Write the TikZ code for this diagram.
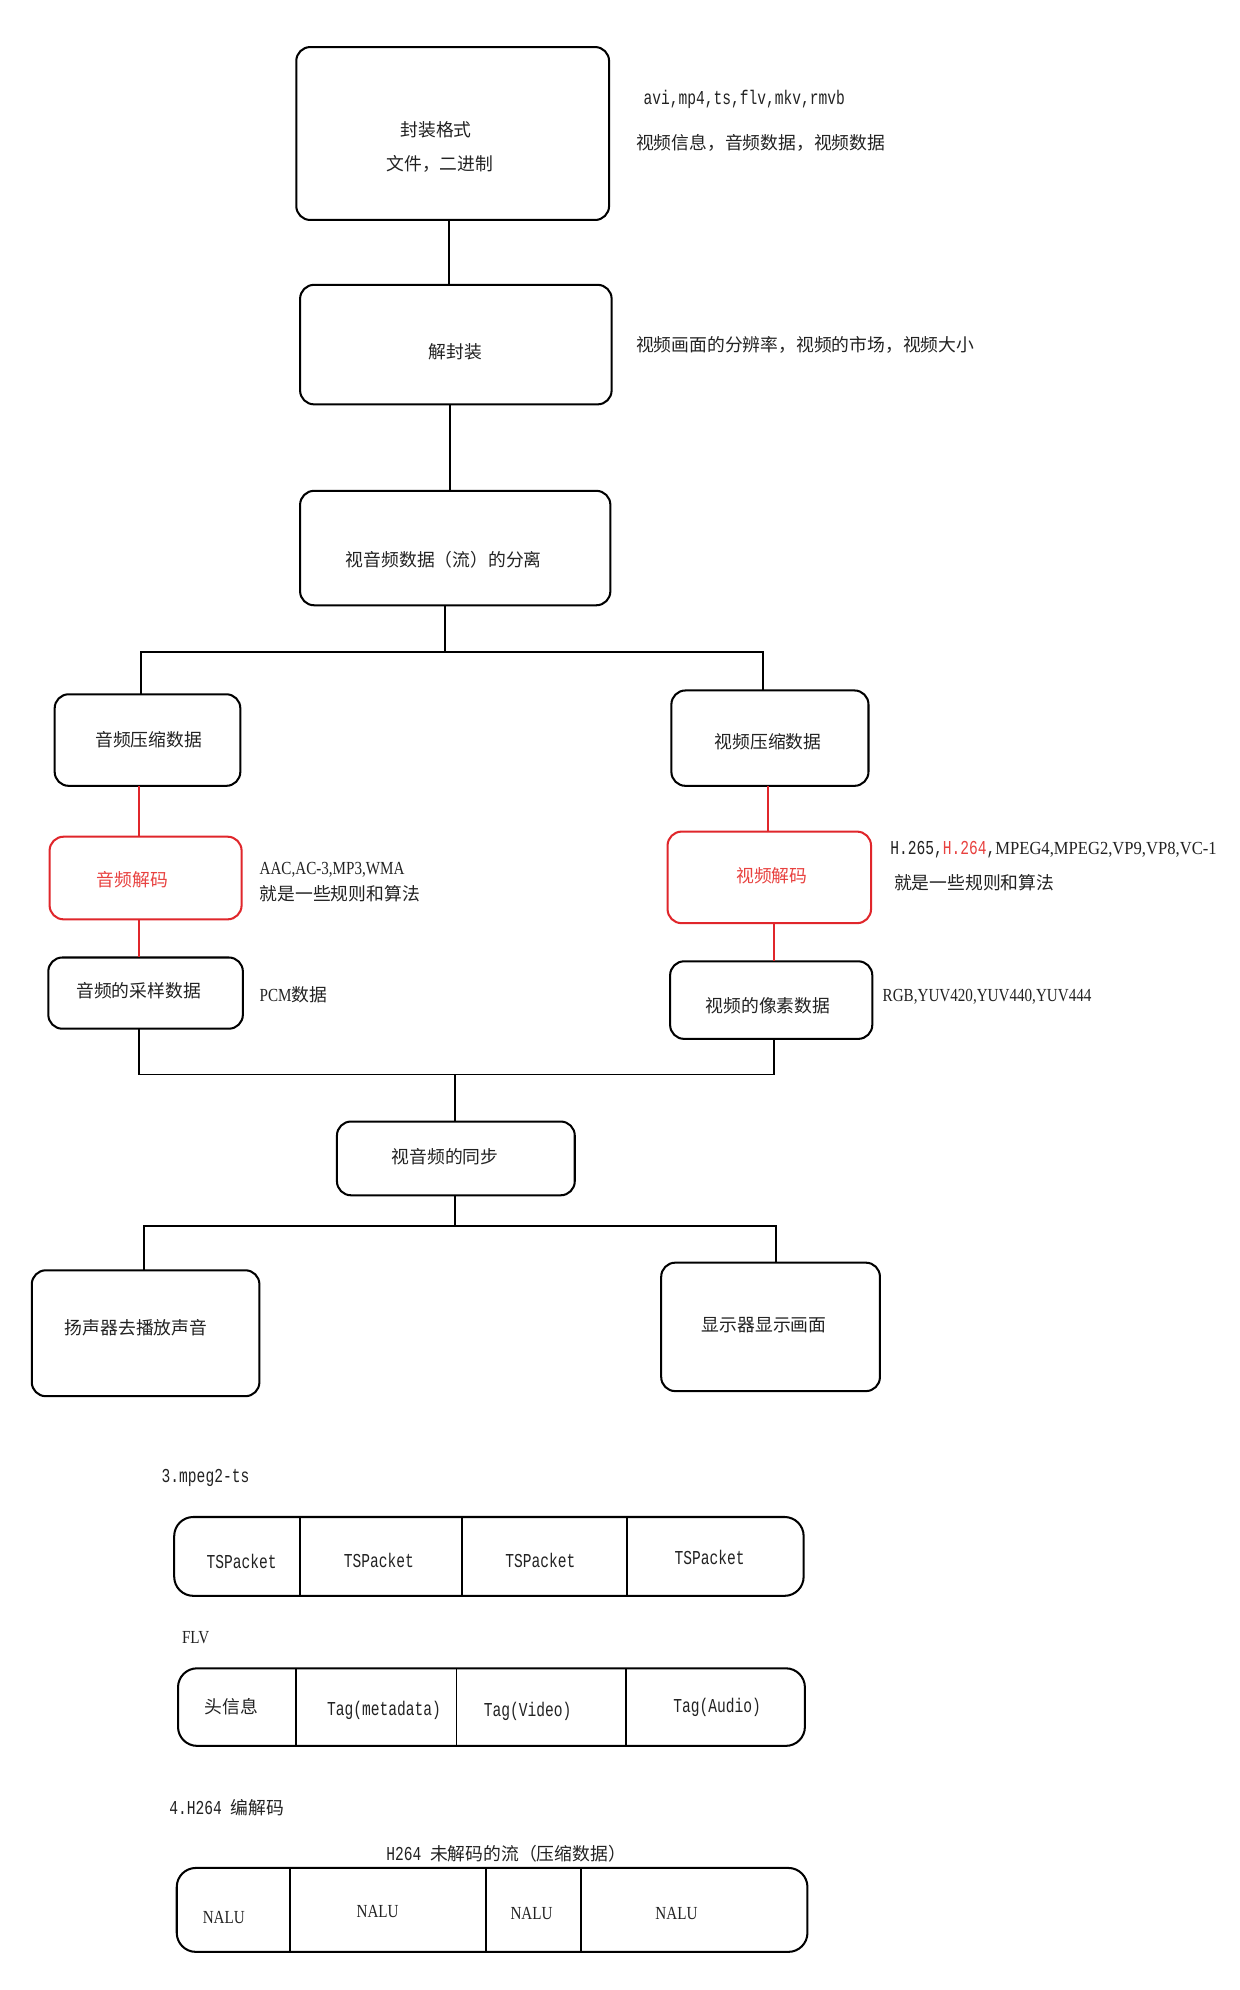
\documentclass[tikz,border=0pt]{standalone}
\usepackage{fontspec}
\setmainfont{Liberation Serif}
\newfontfamily\zhf{Noto Sans CJK SC}
\newfontfamily\mof[FakeStretch=0.74]{Liberation Mono}
\newfontfamily\sef[FakeStretch=0.82]{Liberation Serif}
\newfontfamily\sewf[FakeStretch=0.9]{Liberation Serif}
\definecolor{redc}{HTML}{E0262B}
\definecolor{redt}{HTML}{E8413F}
\definecolor{txt}{HTML}{222222}
\begin{document}
\begin{tikzpicture}[x=1pt,y=-1pt,
  box/.style={draw=black, line width=1.6pt, rounded corners=11pt, anchor=north west, inner sep=0pt, outer sep=0pt},
  redbox/.style={box, draw=redc},
  bar/.style={box, rounded corners=15pt},
  conn/.style={line width=1.5pt},
  redconn/.style={conn, draw=redc},
  zh/.style={font=\fontsize{14}{16}\selectfont\zhf, text=txt, inner sep=0pt},
  mo/.style={font=\fontsize{15.5}{16}\selectfont\mof, text=txt, inner sep=0pt},
  se/.style={font=\fontsize{14.5}{16}\selectfont\sef, text=txt, inner sep=0pt},
]
\fill[white] (0,0) rectangle (975,1565);
\useasboundingbox (0,0) rectangle (975,1565);

% boxes
\node[box, minimum width=246pt, minimum height=136pt] (b1) at (233,37) {};
\node[box, minimum width=245pt, minimum height=94pt] (b2) at (236,224) {};
\node[box, minimum width=244pt, minimum height=90pt] (b3) at (236,386) {};
\node[box, minimum width=146pt, minimum height=72pt] (b4) at (43,546) {};
\node[redbox, minimum width=151pt, minimum height=65pt] (b5) at (39,658) {};
\node[box, minimum width=153pt, minimum height=56pt] (b6) at (38,753) {};
\node[box, minimum width=155pt, minimum height=75pt] (b7) at (528,543) {};
\node[redbox, minimum width=160pt, minimum height=72pt] (b8) at (525,654) {};
\node[box, minimum width=159pt, minimum height=61pt] (b9) at (527,756) {};
\node[box, minimum width=187pt, minimum height=58pt] (b10) at (265,882) {};
\node[box, minimum width=179pt, minimum height=99pt] (b11) at (25,999) {};
\node[box, minimum width=172pt, minimum height=101pt] (b12) at (520,993) {};

% box texts
\node[zh] (t1a) at (343,102) {封装格式};
\node[zh] (t1b) at (346,129) {文件，二进制};
\node[zh] (t2) at (358,277) {解封装};
\node[zh] (t3) at (349,440) {视音频数据（流）的分离};
\node[zh] (t4) at (117,582) {音频压缩数据};
\node[zh, text=redt] (t5) at (104,692) {音频解码};
\node[zh] (t6) at (109,779) {音频的采样数据};
\node[zh] (t7) at (604,583) {视频压缩数据};
\node[zh, text=redt] (t8) at (607,689) {视频解码};
\node[zh] (t9) at (604,791) {视频的像素数据};
\node[zh] (t10) at (350,910) {视音频的同步};
\node[zh] (t11) at (107,1044) {扬声器去播放声音};
\node[zh] (t12) at (601,1042) {显示器显示画面};

% annotations
\node[mo, anchor=west] (a1) at (506,78) {avi,mp4,ts,flv,mkv,rmvb};
\node[zh, anchor=west] (a2) at (500,112) {视频信息，音频数据，视频数据};
\node[zh, anchor=west] (a3) at (500,271) {视频画面的分辨率，视频的市场，视频大小};
\node[se, anchor=west] (a4) at (204,684) {AAC,AC-3,MP3,WMA};
\node[zh, anchor=west] (a5) at (204,703) {就是一些规则和算法};
\node[se, anchor=west] (a6) at (204,782) {PCM{\zhf\fontsize{14}{16}\selectfont 数据}};
\node[mo, anchor=west] (a7) at (700,668) {H.265,\textcolor{redt}{H.264},{\fontsize{14.5}{16}\selectfont\sewf MPEG4,MPEG2,VP9,VP8,VC-1}};
\node[zh, anchor=west] (a8) at (703,694) {就是一些规则和算法};
\node[se, anchor=west] (a9) at (694,784) {RGB,YUV420,YUV440,YUV444};

% connectors
\draw[conn] (353,0 |- b1.south) -- (353,0 |- b2.north);
\draw[conn] (354,0 |- b2.south) -- (354,0 |- b3.north);
\coordinate (j1) at (350,513);
\draw[conn] (350,0 |- b3.south) -- (j1);
\draw[conn] (111,0 |- b4.north) -- (111,513) -- (j1) -- (600,513) -- (600,0 |- b7.north);
\draw[redconn] (109,0 |- b4.south) -- (109,0 |- b5.north);
\draw[redconn] (109,0 |- b5.south) -- (109,0 |- b6.north);
\draw[redconn] (604,0 |- b7.south) -- (604,0 |- b8.north);
\draw[redconn] (609,0 |- b8.south) -- (609,0 |- b9.north);
\coordinate (j2) at (358,845);
\draw[conn] (109,0 |- b6.south) -- (109,845) -- (j2) -- (609,845) -- (609,0 |- b9.south);
\draw[conn] (j2) -- (358,0 |- b10.north);
\coordinate (j3) at (358,964);
\draw[conn] (358,0 |- b10.south) -- (j3);
\draw[conn] (113,0 |- b11.north) -- (113,964) -- (j3) -- (610,964) -- (610,0 |- b12.north);

% mpeg2-ts
\node[mo, anchor=west] (h3) at (127,1162) {3.mpeg2-ts};
\node[bar, minimum width=495pt, minimum height=62pt] (ts) at (137,1193) {};
\foreach \x in {236,363,493} \draw[conn] (\x,0 |- ts.north) -- (\x,0 |- ts.south);
\node[mo] (ts1) at (190,1228) {TSPacket};
\node[mo] (ts2) at (298,1227) {TSPacket};
\node[mo] (ts3) at (425,1227) {TSPacket};
\node[mo] (ts4) at (558,1225) {TSPacket};

% FLV
\node[se, anchor=west] (hf) at (143,1288) {FLV};
\node[bar, minimum width=493pt, minimum height=61pt] (flv) at (140,1312) {};
\foreach \x in {233,359,492} \draw[conn] (\x,0 |- flv.north) -- (\x,0 |- flv.south);
\node[zh] (f1) at (182,1342) {头信息};
\node[mo] (f2) at (302,1345) {Tag(metadata)};
\node[mo] (f3) at (415,1346) {Tag(Video)};
\node[mo] (f4) at (564,1343) {Tag(Audio)};

% H264
\node[mo, anchor=west] (h4) at (133,1422) {4.H264 {\zhf\fontsize{14}{16}\selectfont 编解码}};
\node[mo] (h5) at (398,1458) {H264 {\zhf\fontsize{14}{16}\selectfont 未解码的流（压缩数据）}};
\node[bar, minimum width=496pt, minimum height=66pt] (nal) at (139,1469) {};
\foreach \x in {228,382,457} \draw[conn] (\x,0 |- nal.north) -- (\x,0 |- nal.south);
\node[se] (n1) at (176,1508) {NALU};
\node[se] (n2) at (297,1503) {NALU};
\node[se] (n3) at (418,1505) {NALU};
\node[se] (n4) at (532,1505) {NALU};
\end{tikzpicture}
\end{document}
